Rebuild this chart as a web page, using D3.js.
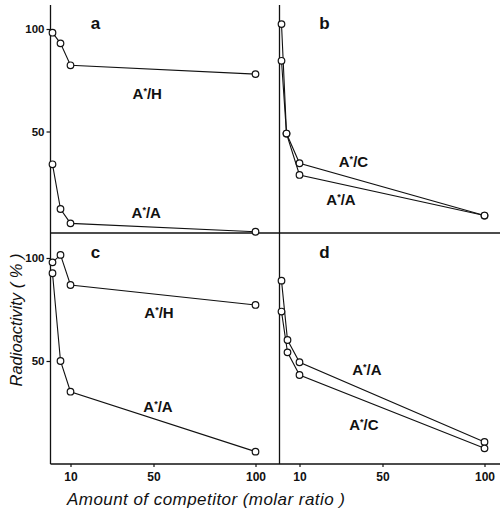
<!DOCTYPE html>
<html>
<head>
<meta charset="utf-8">
<script src="https://cdn.jsdelivr.net/npm/d3@7"></script>
<style>
  body { margin: 0; background: #fff; }
  text { font-family: "Liberation Sans", Arial, sans-serif; fill: #111; }
</style>
</head>
<body>
<svg id="chart" width="500" height="511"></svg>
<script>
// x break points of the (uneven) competitor axis and its tick labels
const xBreaks = [0, 10, 50, 100];
const xTicks = [10, 50, 100];
const yTicks = [50, 100];

// [molar ratio, radioactivity %]
const aH = [[1, 98.2], [5, 93], [10, 82.3], [100, 78]];
const aA = [[1, 34], [5, 12.2], [10, 5.2], [100, 1.1]];
const bC = [[1, 102.4], [3.5, 49], [10, 34.5], [100, 9]];
const bA = [[1, 84.5], [3.5, 49], [10, 28.8], [100, 9]];
const cH = [[1, 97.9], [5, 101.5], [10, 86.9], [100, 77.2]];
const cA = [[1, 92.6], [5, 50], [10, 35.1], [100, 6]];
const dA = [[1, 89], [4, 60.2], [10, 49.4], [100, 10.7]];
const dC = [[1, 74], [4, 54.2], [10, 43.2], [100, 7.6]];

// series labels: [panel, competitor, x, y]
const labels = [
  ["a", "H", 47, 66], ["a", "A", 46.5, 7.8],
  ["b", "C", 36, 32.7], ["b", "A", 30, 14.1],
  ["c", "H", 52.7, 70.9], ["c", "A", 52.2, 25.2],
  ["d", "A", 42.5, 43.2], ["d", "C", 41, 16.5]
];

const svg = d3.select("#chart");

const colX = [50.5, 279.5];
const rowY = [{bottom: 234, top: 29}, {bottom: 464, top: 258}];

function xScale(col) {
  let x0 = colX[col];
  return d3.scaleLinear().domain(xBreaks).range([x0, x0 + 20, x0 + 103, x0 + 205]);
}
function yScale(row) {
  return d3.scaleLinear().domain([0, 100]).range([rowY[row].bottom, rowY[row].top]);
}

const panels = [
  {id: "a", col: 0, row: 0, series: [aH, aA]},
  {id: "b", col: 1, row: 0, series: [bC, bA]},
  {id: "c", col: 0, row: 1, series: [cH, cA]},
  {id: "d", col: 1, row: 1, series: [dA, dC]}
];

// frame lines
const frame = svg.append("g").attr("stroke", "#111").attr("stroke-width", 1.3);
frame.append("line").attr("x1", colX[0]).attr("x2", colX[0]).attr("y1", 5).attr("y2", 464);
frame.append("line").attr("x1", colX[1]).attr("x2", colX[1]).attr("y1", 5).attr("y2", 464);
frame.append("line").attr("x1", colX[0]).attr("x2", 500).attr("y1", 233).attr("y2", 233);
frame.append("line").attr("x1", colX[0]).attr("x2", 500).attr("y1", 464).attr("y2", 464);

// x ticks under both columns
[0, 1].forEach(col => {
  const x = xScale(col);
  const g = svg.append("g").attr("transform", "translate(0,464)")
    .call(d3.axisBottom(x).tickValues(xTicks).tickSize(3).tickPadding(5));
  g.select(".domain").remove();
  g.selectAll(".tick line").attr("stroke", "#111").attr("stroke-width", 1.2);
  g.selectAll(".tick text")
    .style("font-size", "12px").style("font-weight", "bold")
    .style("font-family", "'Liberation Sans', Arial, sans-serif").attr("fill", "#111");
});

// y ticks on the left column only
[0, 1].forEach(row => {
  const y = yScale(row);
  const g = svg.append("g").attr("transform", `translate(${colX[0]},0)`)
    .call(d3.axisLeft(y).tickValues(yTicks).tickSize(4).tickPadding(2));
  g.select(".domain").remove();
  g.selectAll(".tick line").attr("stroke", "#111").attr("stroke-width", 1.2);
  g.selectAll(".tick text")
    .style("font-size", "11.5px").style("font-weight", "bold")
    .style("font-family", "'Liberation Sans', Arial, sans-serif").attr("fill", "#111");
});

const line = d3.line();

panels.forEach(p => {
  const x = xScale(p.col), y = yScale(p.row);
  const g = svg.append("g");

  p.series.forEach(s => {
    g.append("path")
      .attr("d", line(s.map(d => [x(d[0]), y(d[1])])))
      .attr("fill", "none")
      .attr("stroke", "#111")
      .attr("stroke-width", 1.1);
  });
  p.series.forEach(s => {
    g.selectAll(null).data(s).join("circle")
      .attr("cx", d => x(d[0]))
      .attr("cy", d => y(d[1]))
      .attr("r", 3.3)
      .attr("fill", "#fff")
      .attr("stroke", "#111")
      .attr("stroke-width", 1.2);
  });

  // panel letter
  g.append("text")
    .attr("x", x(22)).attr("y", y(100))
    .attr("text-anchor", "middle")
    .style("font-size", "17px").style("font-weight", "bold")
    .text(p.id);

  labels.filter(l => l[0] === p.id).forEach(l => {
    const t = g.append("text")
      .attr("x", x(l[2])).attr("y", y(l[3]))
      .attr("text-anchor", "middle")
      .style("font-size", "15px").style("font-weight", "bold");
    t.append("tspan").text("A");
    t.append("tspan").attr("dy", -5).style("font-size", "9px").text("*");
    t.append("tspan").attr("dy", 5).text("/" + l[1]);
  });
});

// axis titles
svg.append("text")
  .attr("transform", "translate(22,320) rotate(-90)")
  .attr("text-anchor", "middle")
  .style("font-size", "16.5px").style("font-style", "italic")
  .text("Radioactivity ( % )");

svg.append("text")
  .attr("x", 67).attr("y", 505)
  .style("font-size", "17px").style("font-style", "italic")
  .style("letter-spacing", "0.45px")
  .text("Amount of competitor (molar ratio )");
</script>
</body>
</html>
